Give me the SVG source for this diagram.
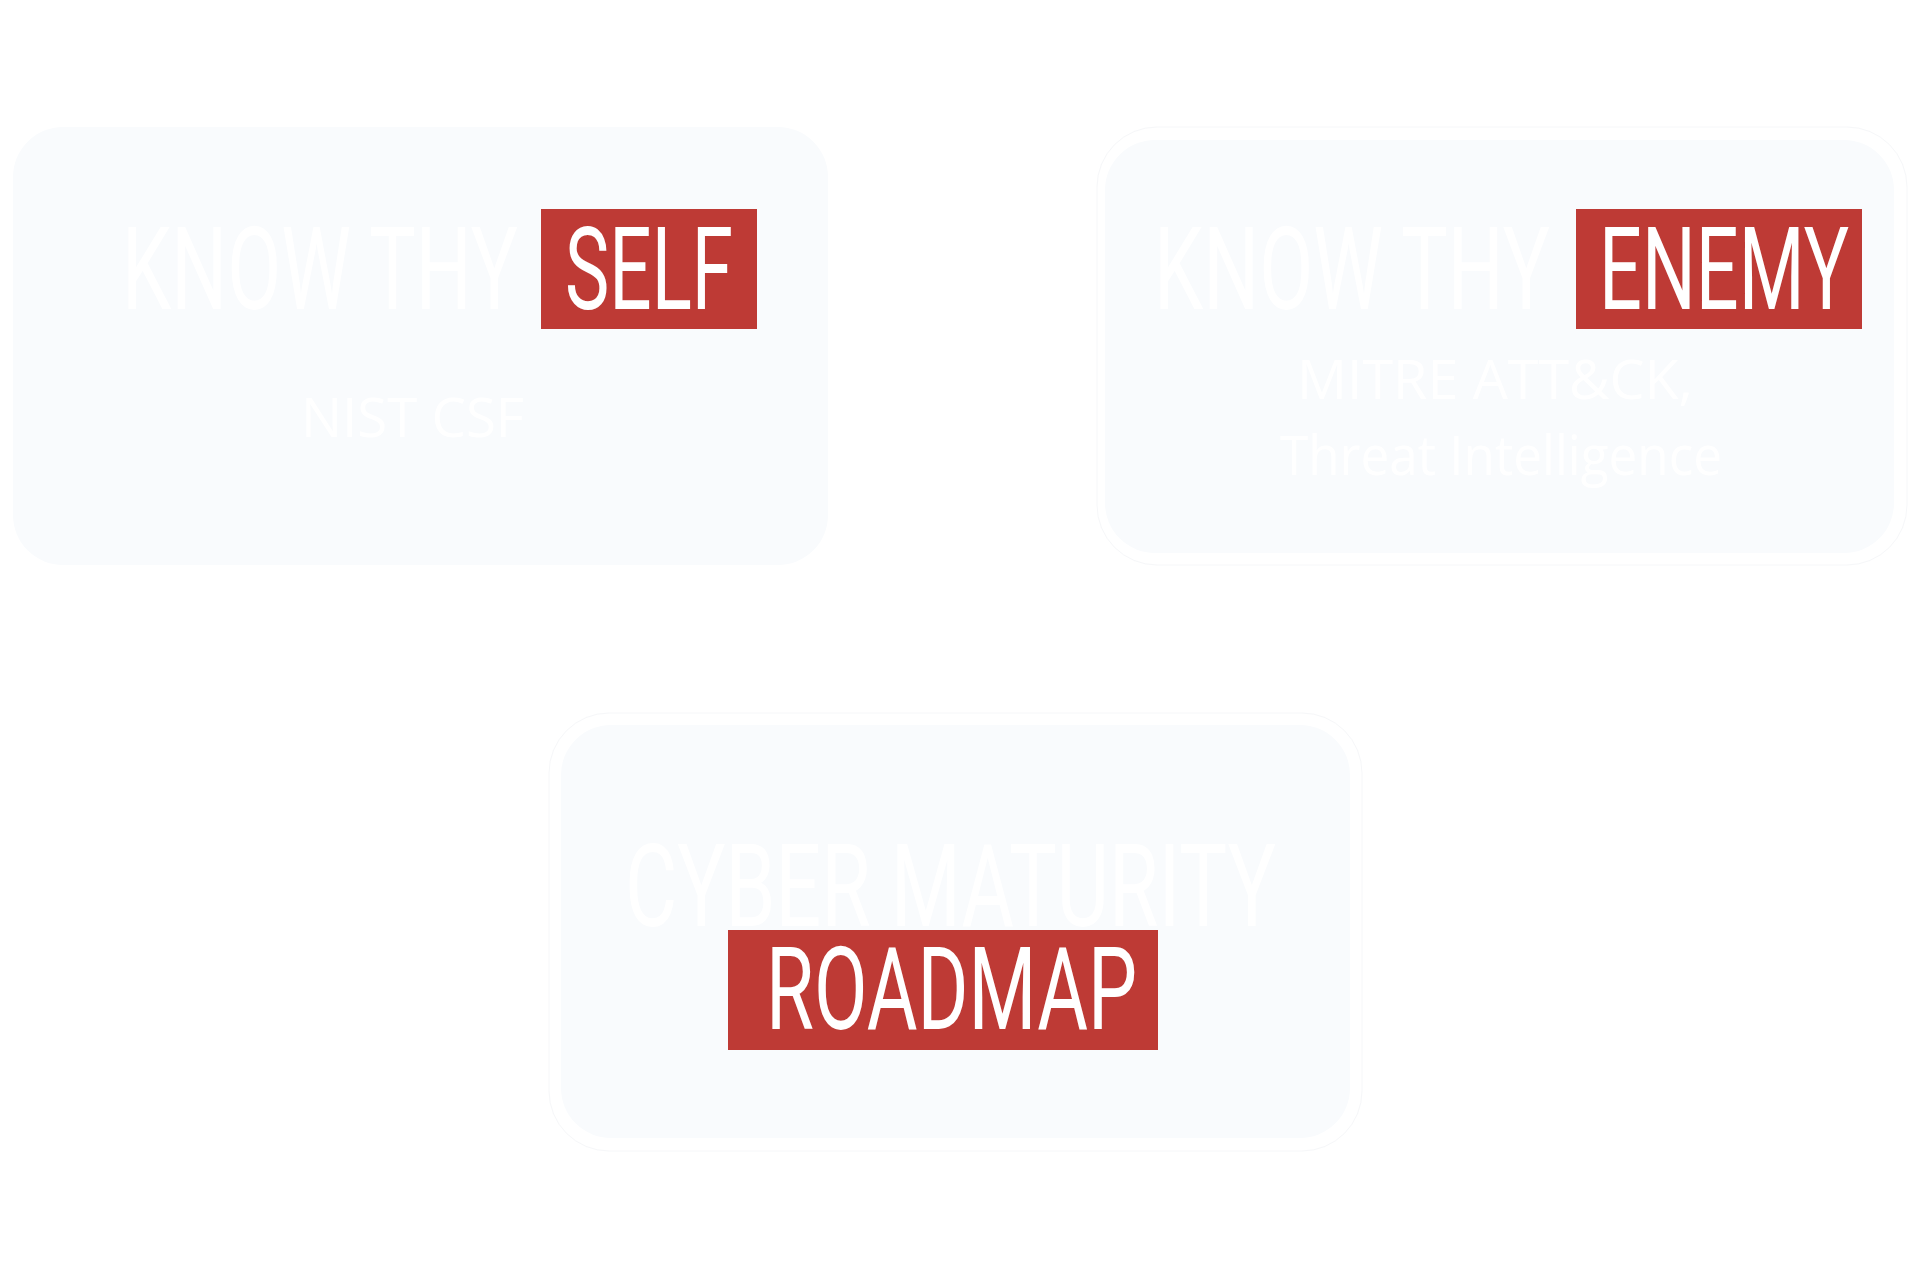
<svg xmlns="http://www.w3.org/2000/svg" width="1920" height="1280" viewBox="0 0 1920 1280">
<style>
.card{fill:#f9fbfd}
.ring{fill:none;stroke:#f6f7f9;stroke-width:1}
.tag{fill:#be3a35}
.big{font-family:Roboto,"Liberation Sans",sans-serif;font-size:115px;font-weight:400;fill:#ffffff}
.sub{font-family:"Open Sans","Liberation Sans",sans-serif;font-size:54px;font-weight:400;fill:#ffffff}
</style>
<rect x="0" y="0" width="1920" height="1280" fill="#ffffff"/>
<g id="node-know-thyself">
<rect class="card" x="13" y="127" width="815" height="438" rx="50" ry="50"/>
<text class="big" x="122" y="309" textLength="396" lengthAdjust="spacingAndGlyphs">KNOW THY</text>
<rect class="tag" x="541" y="209" width="216" height="120"/>
<text class="big" x="565" y="309" textLength="168" lengthAdjust="spacingAndGlyphs">SELF</text>
<text class="sub" x="301" y="437" textLength="223" lengthAdjust="spacingAndGlyphs">NIST CSF</text>
</g>
<g id="node-know-thy-enemy">
<rect class="ring" x="1097" y="127" width="810" height="438" rx="60" ry="60"/>
<rect class="card" x="1105" y="140" width="789" height="413" rx="50" ry="50"/>
<text class="big" x="1154" y="309" textLength="396" lengthAdjust="spacingAndGlyphs">KNOW THY</text>
<rect class="tag" x="1576" y="209" width="286" height="120"/>
<text class="big" x="1599" y="309" textLength="250" lengthAdjust="spacingAndGlyphs">ENEMY</text>
<text class="sub" x="1297" y="399" textLength="396" lengthAdjust="spacingAndGlyphs">MITRE ATT&amp;CK,</text>
<text class="sub" x="1280" y="475" textLength="442" lengthAdjust="spacingAndGlyphs">Threat Intelligence</text>
</g>
<g id="node-cyber-maturity-roadmap">
<rect class="ring" x="549" y="713" width="813" height="438" rx="60" ry="60"/>
<rect class="card" x="561" y="725" width="789" height="413" rx="50" ry="50"/>
<text class="big" x="625" y="926" textLength="651" lengthAdjust="spacingAndGlyphs">CYBER MATURITY</text>
<rect class="tag" x="728" y="930" width="430" height="120"/>
<text class="big" x="766" y="1029" textLength="371" lengthAdjust="spacingAndGlyphs">ROADMAP</text>
</g>
<g id="connectors"></g>
</svg>
